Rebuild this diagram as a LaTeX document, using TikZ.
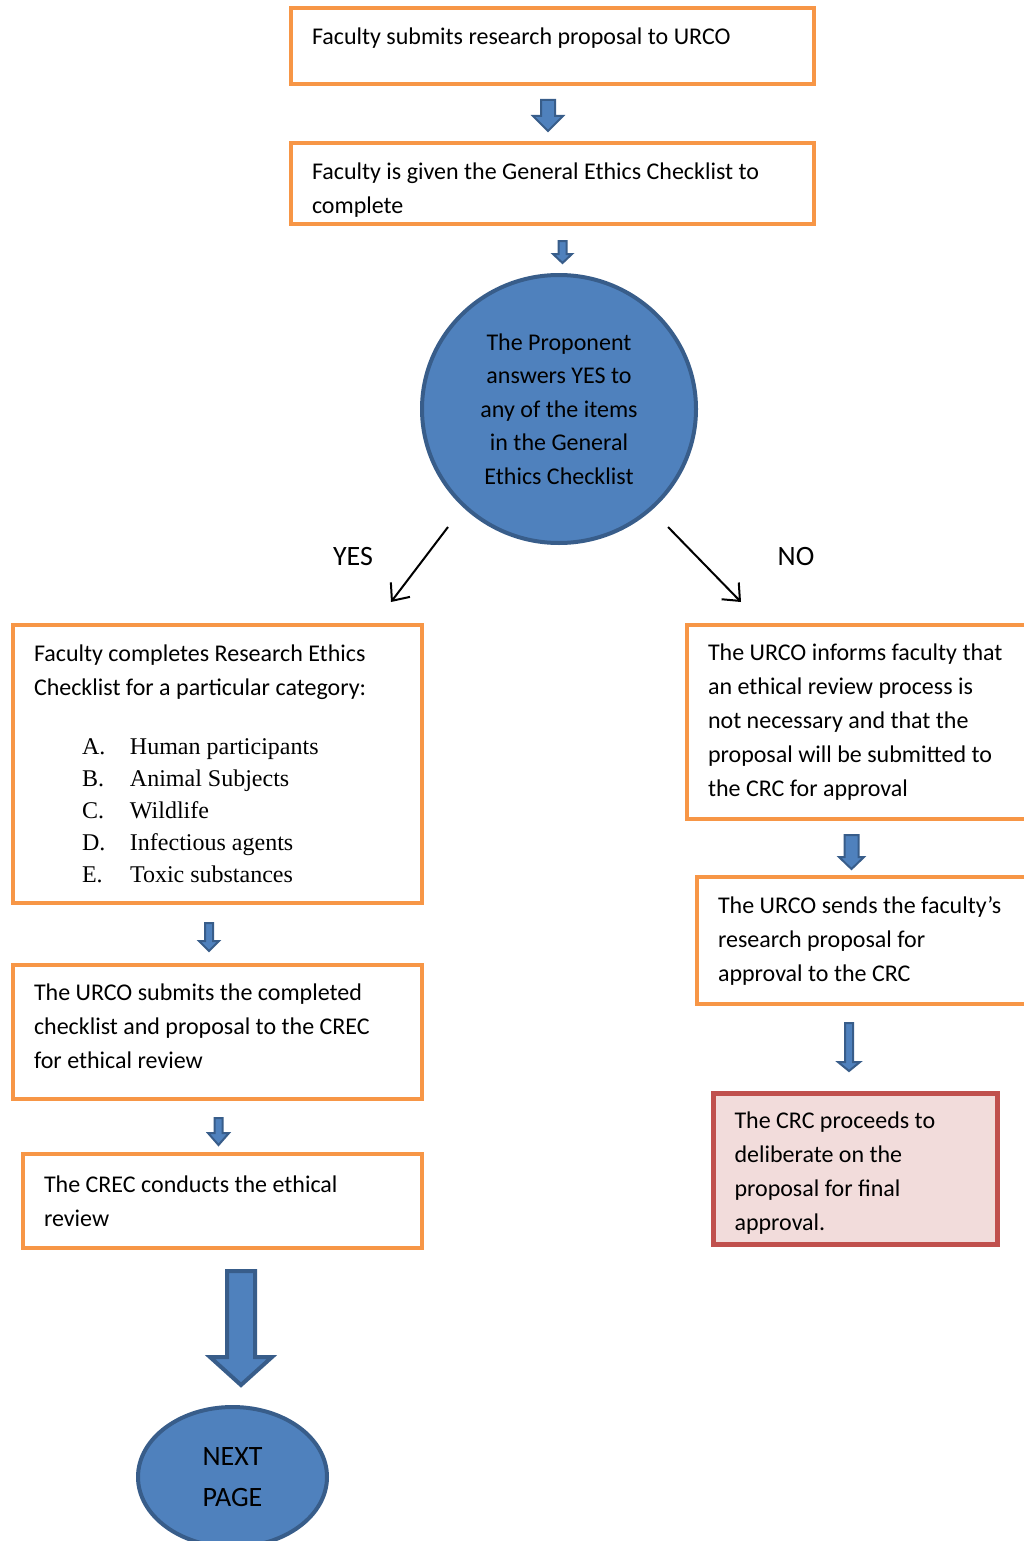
\documentclass[tikz,border=0pt]{standalone}
\usepackage{fontspec}
\setmainfont{Carlito}
\newfontfamily\listfont{Liberation Serif}
\usetikzlibrary{calc,arrows.meta,shapes.geometric}
\definecolor{boxorange}{HTML}{F79646}
\definecolor{ovalblue}{HTML}{4F81BD}
\definecolor{ovaldark}{HTML}{385D8A}
\definecolor{crcred}{HTML}{C0504D}
\definecolor{crcpink}{HTML}{F2DCDB}
\def\blockarrow[#1](#2)(#3)#4#5#6{\draw[#1] ($(#2)+(-#4,0)$) -- ($(#3)+(-#4,-#6)$) -- ($(#3)+(-#5,-#6)$) -- (#3) -- ($(#3)+(#5,-#6)$) -- ($(#3)+(#4,-#6)$) -- ($(#2)+(#4,0)$) -- cycle;}
\tikzset{
  stepbox/.style={rectangle, draw=boxorange, line width=4pt, align=flush left, inner xsep=21pt, inner ysep=0pt, font=\fontsize{24}{34}\selectfont},
  crcbox/.style={stepbox, draw=crcred, fill=crcpink, line width=5pt},
  decision/.style={ellipse, draw=ovaldark, fill=ovalblue, line width=4pt, align=flush center, inner sep=0pt, font=\fontsize{24}{33.5}\selectfont},
  blockarr/.style={draw=ovaldark, fill=ovalblue, line width=2pt},
  bigarr/.style={blockarr, line width=4pt},
  choice/.style={draw, line width=2pt, -{Straight Barb[length=14pt,width=24pt]}},
  choicelabel/.style={font=\fontsize{28}{34}\selectfont}
}
\begin{document}
\begin{tikzpicture}[x=1pt,y=-1pt]
				\clip (0,0) rectangle (1024,1541);
				\fill[white] (0,0) rectangle (1024,1541);
				
				% top of the chart
				\node[stepbox, minimum width=523, minimum height=76, text width=481, text depth=19pt] (submit) at (552.5,46) {Faculty submits research proposal to URCO};
				\node[stepbox, minimum width=523, minimum height=81, text width=481, text height=29pt] (given) at (552.5,183.5) {Faculty is given the General Ethics Checklist to\\complete};
				\node[decision, minimum width=274, minimum height=268] (answers) at (559,409) {The Proponent\\answers YES to\\any of the items\\in the General\\Ethics Checklist};
				
				\coordinate (a1s) at (548,100);
				\coordinate (a1e) at (548,131);
				\blockarrow[blockarr](a1s)(a1e){7}{15}{15}
				\coordinate (a2s) at (562.5,241);
				\coordinate (a2e) at (562.5,263);
				\blockarrow[blockarr](a2s)(a2e){4}{9.5}{9}
				
				% yes / no
				\coordinate (yesfrom) at (448,527);
				\coordinate (yesto) at (391,602);
				\coordinate (nofrom) at (668,527);
				\coordinate (noto) at (741,602);
				\draw[choice] (yesfrom) -- (yesto);
				\draw[choice] (nofrom) -- (noto);
				\node[choicelabel] (yes) at (353,557) {YES};
				\node[choicelabel] (no) at (796,557) {NO};
				
				% left branch
				\node[stepbox, minimum width=409, minimum height=278, text width=367] (category) at (217.5,764) {Faculty completes Research Ethics\\Checklist for a particular category:\\[25pt]
					{\listfont\hspace*{48pt}\makebox[48pt][l]{A.}Human participants}\\[-2pt]
					{\listfont\hspace*{48pt}\makebox[48pt][l]{B.}Animal Subjects}\\[-2pt]
					{\listfont\hspace*{48pt}\makebox[48pt][l]{C.}Wildlife}\\[-2pt]
					{\listfont\hspace*{48pt}\makebox[48pt][l]{D.}Infectious agents}\\[-2pt]
					{\listfont\hspace*{48pt}\makebox[48pt][l]{E.}Toxic substances}};
				\node[stepbox, minimum width=409, minimum height=134, text width=367, text depth=80pt] (crecsubmit) at (217.5,1032) {The URCO submits the completed\\checklist and proposal to the CREC\\for ethical review};
				\node[stepbox, minimum width=399, minimum height=94, text width=357] (crecreview) at (222.5,1201) {The CREC conducts the ethical\\review};
				\node[decision, minimum width=189, minimum height=140, font=\fontsize{28}{41}\selectfont] (nextpage) at (232.5,1477) {NEXT\\PAGE};
				
				\coordinate (a3s) at (209,923);
				\coordinate (a3e) at (209,951);
				\blockarrow[blockarr](a3s)(a3e){4}{10}{10}
				\coordinate (a4s) at (218.5,1118);
				\coordinate (a4e) at (218.5,1145);
				\blockarrow[blockarr](a4s)(a4e){4}{10.5}{12}
				\coordinate (a7s) at (241,1271);
				\coordinate (a7e) at (241,1385);
				\blockarrow[bigarr](a7s)(a7e){14}{31}{28}
				
				% right branch
				\node[stepbox, minimum width=353, minimum height=194, text width=311] (informs) at (863.5,722) {The URCO informs faculty that\\an ethical review process is\\not necessary and that the\\proposal will be submitted to\\the CRC for approval};
				\node[stepbox, minimum width=343, minimum height=127, text width=301] (sends) at (868.5,940.5) {The URCO sends the faculty’s\\research proposal for\\approval to the CRC};
				\node[crcbox, minimum width=284, minimum height=151, text width=242, text height=25pt] (deliberate) at (855.5,1169) {The CRC proceeds to\\deliberate on the\\proposal for final\\approval.};
				
				\coordinate (a5s) at (851.5,835);
				\coordinate (a5e) at (851.5,869);
				\blockarrow[blockarr](a5s)(a5e){7}{12.5}{12}
				\coordinate (a6s) at (849,1023);
				\coordinate (a6e) at (849,1071);
				\blockarrow[blockarr](a6s)(a6e){4}{11}{9}
			\end{tikzpicture}
\end{document}
